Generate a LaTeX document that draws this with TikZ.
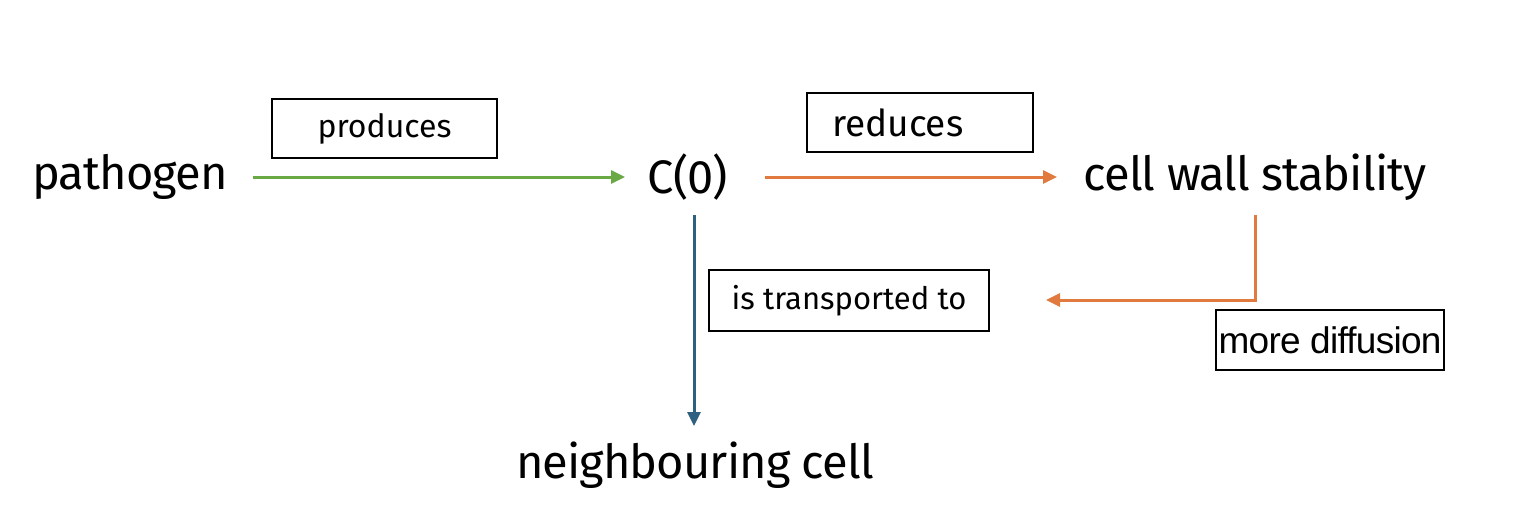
\documentclass[tikz,border=0pt]{standalone}
\usepackage{fontspec}
\setmainfont{Fira Sans}
\newfontfamily\arialfont{Liberation Sans}
\usetikzlibrary{arrows.meta}
\definecolor{cgreen}{HTML}{6AAA45}
\definecolor{corange}{HTML}{E07A3E}
\definecolor{cblue}{HTML}{2E6082}
\begin{document}
\begin{tikzpicture}[x=1pt,y=-1pt,
  term/.style={inner sep=0pt,font=\fontsize{47}{52}\selectfont\addfontfeatures{LetterSpace=-2}},
  labelbox/.style={draw=black,line width=2pt,inner sep=0pt,font=\fontsize{31}{36}\selectfont},
  conn/.style={line width=3pt,-{Triangle[length=14pt,width=13pt]}}]
\useasboundingbox (0,0) rectangle (1522,516);
% concepts
\node[term] (pathogen) at (130,177) {pathogen};
\node[term] (c0) at (688,177) {C(0)};
\node[term] (cws) at (1255,177) {cell wall stability};
\node[term] (nc) at (695,465) {neighbouring cell};
% labels
\node[labelbox,minimum width=225pt,minimum height=59pt] (lprod) at (384.5,128.5) {\fontsize{32}{36}\selectfont produces};
\node[labelbox,minimum width=226pt,minimum height=59pt,text width=176pt,align=left] (lred) at (920,122.5) {\fontsize{37}{40}\selectfont reduces};
\node[labelbox,minimum width=280pt,minimum height=61pt] (ltrans) at (849,300.5) {is transported to};
\node[labelbox,minimum width=228pt,minimum height=60pt] (ldiff) at (1330,340) {\arialfont\fontsize{37}{40}\selectfont\addfontfeatures{LetterSpace=-2}more diffusion};
% connectors
\coordinate (gstart) at (253,177);
\coordinate (gend) at (625,177);
\coordinate (ostart) at (765,177);
\coordinate (oend) at (1057,177);
\coordinate (bstart) at (694,215);
\coordinate (bend) at (694,426);
\coordinate (rstart) at (1255,215);
\coordinate (rcorner) at (1255,300);
\coordinate (rend) at (1046,300);
\draw[conn,cgreen] (gstart) -- (gend);
\draw[conn,corange] (ostart) -- (oend);
\draw[conn,cblue] (bstart) -- (bend);
\draw[conn,corange] (rstart) -- (rcorner) -- (rend);
\end{tikzpicture}
\end{document}
